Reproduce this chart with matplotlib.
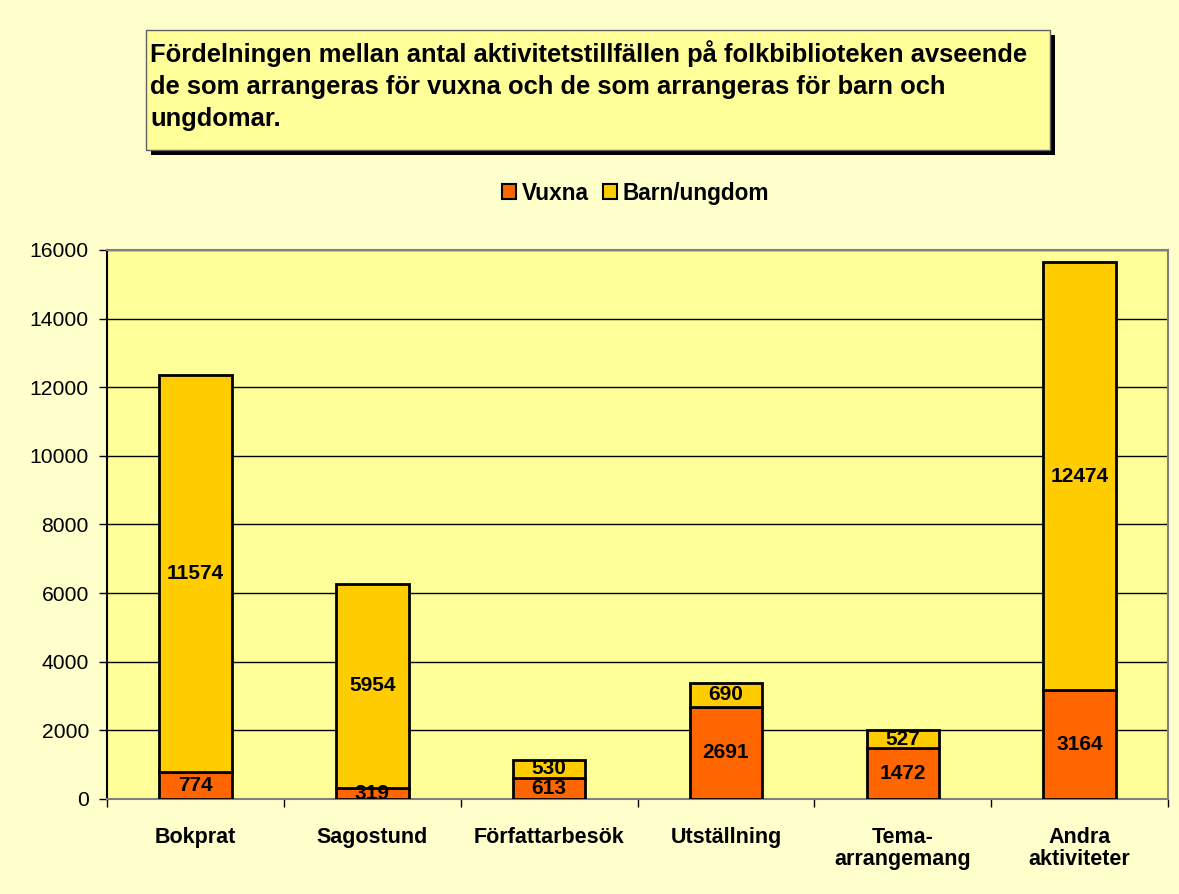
import numpy as np
import matplotlib.pyplot as plt
from matplotlib.patches import Rectangle

plt.rcParams['font.family'] = ['Liberation Sans', 'DejaVu Sans']

# data
categories = ['Bokprat', 'Sagostund', 'Författarbesök', 'Utställning',
              'Tema-\narrangemang', 'Andra\naktiviteter']
vuxna = [774, 319, 613, 2691, 1472, 3164]
barn = [11574, 5954, 530, 690, 527, 12474]

title = ('Fördelningen mellan antal aktivitetstillfällen på folkbiblioteken avseende\n'
         'de som arrangeras för vuxna och de som arrangeras för barn och\n'
         'ungdomar.')

fig = plt.figure(figsize=(11.79, 8.94), dpi=100)
fig.patch.set_facecolor('#FFFFCC')

ax = fig.add_axes([0.0908, 0.1063, 0.9, 0.6141])
ax.set_facecolor('#FFFF99')

x = np.arange(len(categories))
w = 0.41
ax.bar(x, vuxna, w, color='#FF6600', edgecolor='black', linewidth=2,
       label='Vuxna', zorder=3)
ax.bar(x, barn, w, bottom=vuxna, color='#FFCC00', edgecolor='black',
       linewidth=2, label='Barn/ungdom', zorder=3)

for i in range(len(categories)):
    ax.text(x[i], vuxna[i] / 2, str(vuxna[i]), ha='center', va='center',
            fontsize=15, fontweight='bold', zorder=4)
    ax.text(x[i], vuxna[i] + barn[i] / 2, str(barn[i]), ha='center', va='center',
            fontsize=15, fontweight='bold', zorder=4)

ax.set_xlim(-0.5, len(categories) - 0.5)
ax.set_ylim(0, 16000)
ax.set_yticks(np.arange(0, 16001, 2000))
ax.yaxis.grid(True, color='black', linewidth=1)
ax.set_axisbelow(True)
ax.tick_params(axis='y', labelsize=15.2, length=6, width=1, direction='out', pad=7)

ax.set_xticks(x)
ax.set_xticklabels(categories, fontsize=15.5, fontweight='bold', linespacing=1.1)
ax.tick_params(axis='x', length=0, pad=20)
ax.set_xticks(np.arange(-0.5, len(categories), 1), minor=True)
ax.tick_params(axis='x', which='minor', length=6, width=1, direction='out')

ax.spines['left'].set_color('black')
ax.spines['bottom'].set_color('#808080')
ax.spines['top'].set_color('#808080')
ax.spines['right'].set_color('#808080')
for s in ax.spines.values():
    s.set_linewidth(1.5)

leg = fig.legend(loc='center', bbox_to_anchor=(0.539, 0.784), ncol=2, frameon=False,
                 prop={'size': 16.3, 'weight': 'bold'}, handlelength=0.65,
                 handleheight=0.65, handletextpad=0.25, columnspacing=0.6)
for p in leg.get_patches():
    p.set_linewidth(1.5)

# title box with shadow
bx, by, bw, bh = 146 / 1179, 1 - 150 / 894, 904 / 1179, 120 / 894
fig.patches.append(Rectangle((bx + 5 / 1179, by - 5 / 894), bw, bh,
                             transform=fig.transFigure, facecolor='black',
                             edgecolor='none', zorder=1))
fig.patches.append(Rectangle((bx, by), bw, bh, transform=fig.transFigure,
                             facecolor='#FFFF99', edgecolor='#606060',
                             linewidth=1, zorder=2))
fig.text(bx + 4 / 1179, 1 - 86 / 894, title, ha='left', va='center',
         fontsize=18.4, fontweight='bold', linespacing=1.42, zorder=3)

fig.savefig('out.png', dpi=100, facecolor=fig.get_facecolor())
